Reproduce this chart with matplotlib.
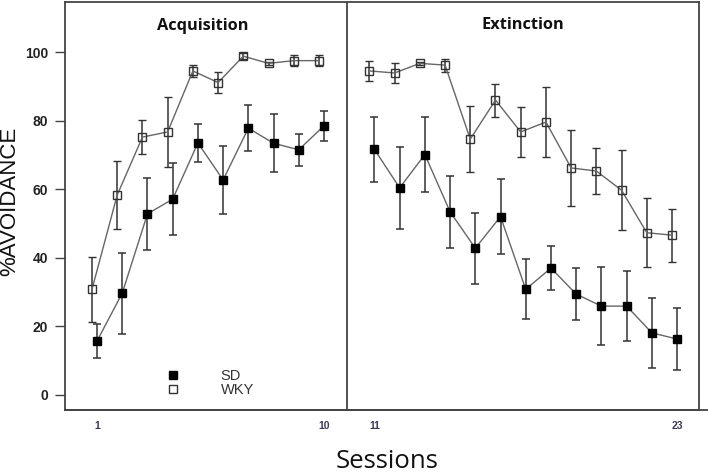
import matplotlib.pyplot as plt
from matplotlib.lines import Line2D
import numpy as np

# Session numbers
sessions_acq = list(range(1, 11))
sessions_ext = list(range(11, 24))

# % avoidance (mean and error)
sd_acq = [15.7, 29.7, 52.8, 57.1, 73.5, 62.7, 77.8, 73.4, 71.5, 78.5]
sd_acq_err = [5.0, 11.8, 10.6, 10.6, 5.6, 9.9, 6.8, 8.5, 4.7, 4.4]
wky_acq = [30.8, 58.3, 75.2, 76.7, 94.5, 91.1, 98.8, 96.7, 97.5, 97.5]
wky_acq_err = [9.5, 9.8, 5.0, 10.3, 1.8, 3.0, 0.8, 0.5, 1.7, 1.5]

sd_ext = [71.6, 60.4, 70.1, 53.4, 42.8, 52.0, 30.8, 37.0, 29.4, 25.9, 25.9, 18.1, 16.3]
sd_ext_err = [9.4, 12.0, 11.0, 10.5, 10.4, 11.0, 8.7, 6.4, 7.6, 11.4, 10.2, 10.3, 9.0]
wky_ext = [94.5, 93.9, 96.7, 96.2, 74.6, 86.0, 76.7, 79.6, 66.2, 65.3, 59.7, 47.3, 46.6]
wky_ext_err = [3.0, 3.0, 0.5, 1.9, 9.6, 4.8, 7.3, 10.2, 11.2, 6.6, 11.6, 10.0, 7.7]

y_ticks = [0, 20, 40, 60, 80, 100]
x_tick_sessions = [1, 10, 11, 23]

# extinction sessions sit one slot to the right (gap after acquisition)
def pos(s):
    return s if s <= 10 else s + 1

frame = "#444444"
err_kw = dict(ecolor="#333333", elinewidth=1.1, capsize=3, capthick=1.1)

fig = plt.figure(figsize=(7.08, 4.72), dpi=100)
ax = fig.add_axes([65 / 708, 1 - 410 / 472, (699 - 65) / 708, (410 - 2) / 472])


def draw_phase(sessions, sd, sd_err, wky, wky_err):
    x = np.array([pos(s) for s in sessions], dtype=float)
    ax.errorbar(x, sd, yerr=sd_err, color="#666666", lw=1.0, marker="s",
                ms=6, mfc="black", mec="black", zorder=3, **err_kw)
    ax.errorbar(x - 0.2, wky, yerr=wky_err, color="#666666", lw=1.0, marker="s",
                ms=5.5, mfc="none", mec="#333333", mew=1.0, zorder=3, **err_kw)


draw_phase(sessions_acq, sd_acq, sd_acq_err, wky_acq, wky_acq_err)
draw_phase(sessions_ext, sd_ext, sd_ext_err, wky_ext, wky_ext_err)

ax.set_xlim(-0.27, 24.87)
ax.set_ylim(-4.4, 114.6)

# phase divider
ax.axvline(10.9, color=frame, lw=1.3)

for side in ["left", "right", "top", "bottom"]:
    ax.spines[side].set_color(frame)
    ax.spines[side].set_linewidth(1.3)

# bottom line runs on to the image edge
fig.add_artist(Line2D([65 / 708, 1.0], [1 - 410 / 472] * 2, color=frame, lw=1.3))

ax.set_yticks(y_ticks)
ax.set_yticklabels([str(v) for v in y_ticks], fontsize=10, fontweight="bold",
                   family="Liberation Sans", color="#222222")
ax.tick_params(axis="y", direction="out", length=7, width=1.0, color=frame, pad=5)

ax.set_xticks([pos(s) for s in x_tick_sessions])
ax.set_xticklabels([str(s) for s in x_tick_sessions], fontsize=7.5, fontweight="bold",
                   family="Liberation Sans", color="#3a3a55")
ax.tick_params(axis="x", length=0, pad=8)

ax.text(0.218, 0.94, "Acquisition", transform=ax.transAxes, ha="center", va="center",
        fontsize=11.8, fontweight="bold", family="Open Sans", color="#111111")
ax.text(0.722, 0.943, "Extinction", transform=ax.transAxes, ha="center", va="center",
        fontsize=11.8, fontweight="bold", family="Open Sans", color="#111111")

fig.text(10 / 708, 1 - 201 / 472, "%AVOIDANCE", rotation=90, ha="center", va="center",
         fontsize=16, family="Liberation Sans", color="#111111")
fig.text(387 / 708, 1 - 461 / 472, "Sessions", ha="center", va="center",
         fontsize=18.5, family="Open Sans", color="#111111")

handles = [
    Line2D([], [], ls="none", marker="s", ms=5.5, mfc="black", mec="black"),
    Line2D([], [], ls="none", marker="s", ms=5.5, mfc="white", mec="#333333"),
]
ax.legend(handles, ["SD", "WKY"], loc="center left",
          bbox_to_anchor=((158 - 65) / 634, (410 - 383) / 408), frameon=False,
          handletextpad=2.8, labelspacing=0.0, borderpad=0, handlelength=1,
          prop={"family": "Liberation Sans", "size": 10.5}, labelcolor="#333333")

fig.savefig("out.png", dpi=100)
